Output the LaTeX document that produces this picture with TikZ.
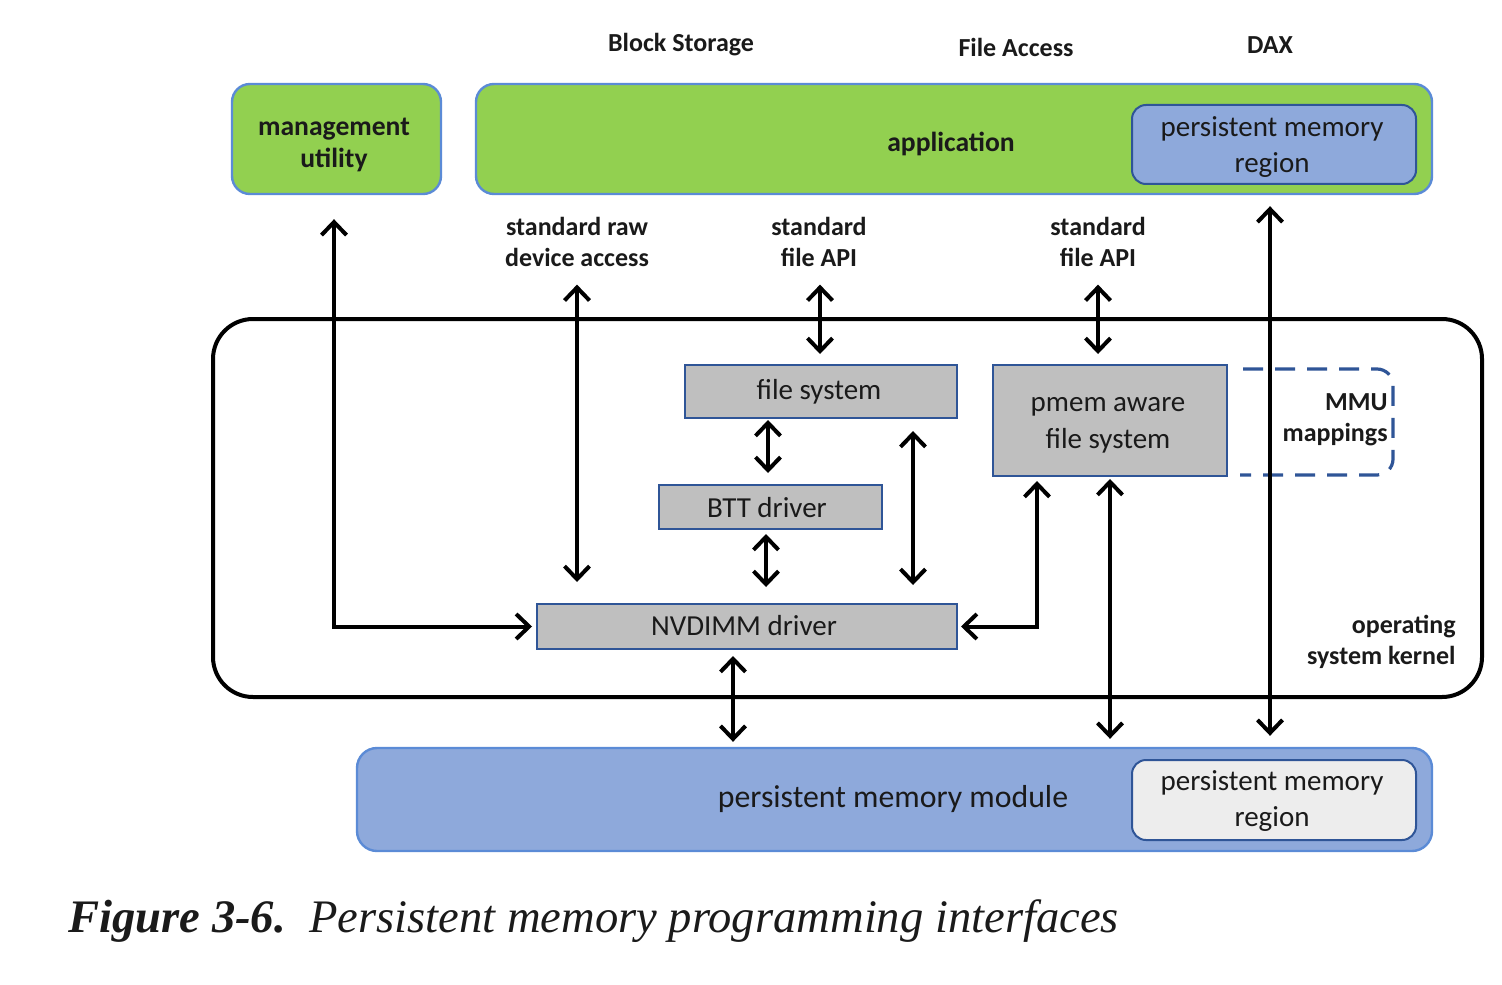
\documentclass[tikz,border=0pt]{standalone}
\usepackage{fontspec}
\setmainfont{Carlito}
\newfontfamily\capfont{Liberation Serif}
\usetikzlibrary{arrows.meta,calc}
\definecolor{cgreen}{HTML}{92D050}
\definecolor{cblue}{HTML}{8EA9DB}
\definecolor{cbord}{HTML}{5B8BD6}
\definecolor{cdark}{HTML}{2F5597}
\definecolor{cgray}{HTML}{BFBFBF}
\definecolor{clight}{HTML}{EDEDED}
\definecolor{ctext}{HTML}{1A1A1A}
\tikzset{
  gbox/.style={draw=cbord, fill=cgreen, line width=1.2pt, rounded corners=9pt, text=ctext, font=\fontsize{13.8}{16}\selectfont\bfseries, align=center, inner sep=0pt},
  pmrbox/.style={draw=cdark, line width=1pt, rounded corners=7pt, text=ctext, font=\fontsize{14.5}{18}\selectfont, align=center, inner sep=0pt},
  graybox/.style={draw=cdark, fill=cgray, line width=1pt, text=ctext, font=\fontsize{14.5}{18.5}\selectfont, align=center, inner sep=0pt},
  lbl/.style={text=ctext, font=\fontsize{13}{15.5}\selectfont\bfseries, align=center, inner sep=0pt},
  tip/.tip={Straight Barb[length=6.5pt,width=12.5pt,line width=2pt]},
  darr/.style={line width=2pt, tip-tip},
}
\begin{document}
\begin{tikzpicture}[x=0.5pt,y=-0.5pt]
\useasboundingbox (0,0) rectangle (1502,984);
% top labels
\node[lbl] (bs) at (681,45) {Block Storage};
\node[lbl] (fa) at (1016,47) {File Access};
\node[lbl] (dax) at (1270,45) {DAX};
% top boxes
\node[gbox, minimum width=209*0.5pt, minimum height=110*0.5pt] (mgmt) at (336.5,139) {};
\node[text=ctext, font=\fontsize{13.8}{16}\selectfont\bfseries, align=center, inner sep=0pt] (mgmtlbl) at (334,145) {management\\utility};
\node[gbox, minimum width=956*0.5pt, minimum height=110*0.5pt] (app) at (954,139) {};
\node[text=ctext, font=\fontsize{13.8}{17}\selectfont\bfseries, inner sep=0pt] (applbl) at (951,144) {application};
\node[pmrbox, fill=cblue, minimum width=284*0.5pt, minimum height=79*0.5pt] (pmr1) at (1274,144.5) {};
\node[text=ctext, font=\fontsize{14.5}{18}\selectfont, align=center, inner sep=0pt] (pmr1lbl) at (1272,147.5) {persistent memory\\region};
% interface labels
\node[lbl] (raw) at (577,241.5) {standard raw\\device access};
\node[lbl] (api1) at (819,241.5) {standard\\file API};
\node[lbl] (api2) at (1098,241.5) {standard\\file API};
% kernel
\node[draw=black, line width=2pt, rounded corners=20pt, minimum width=1269*0.5pt, minimum height=378*0.5pt, inner sep=0pt] (kernel) at (847.5,508) {};
\node[lbl, align=right, anchor=east] (klbl) at (1456,642) {operating\\system kernel};
% inner boxes
\node[graybox, minimum width=272*0.5pt, minimum height=53*0.5pt] (fs) at (821,391.5) {};
\node[text=ctext, font=\fontsize{14.5}{18}\selectfont, inner sep=0pt] (fslbl) at (819,391.5) {file system};
\node[graybox, minimum width=223*0.5pt, minimum height=44*0.5pt] (btt) at (770.5,507) {};
\node[text=ctext, font=\fontsize{14.5}{18}\selectfont, inner sep=0pt] (bttlbl) at (767,508) {BTT driver};
\node[graybox, minimum width=420*0.5pt, minimum height=45*0.5pt] (nvd) at (747,626.5) {};
\node[text=ctext, font=\fontsize{14.5}{18}\selectfont, inner sep=0pt] (nvdlbl) at (744,626) {NVDIMM driver};
\node[graybox, minimum width=234*0.5pt, minimum height=111*0.5pt] (pafs) at (1110,420.5) {};
\node[text=ctext, font=\fontsize{14.5}{18.5}\selectfont, align=center, inner sep=0pt] (pafslbl) at (1108,425) {pmem aware\\file system};
% MMU mappings
\draw[cdark, line width=1.6pt, dash pattern=on 10pt off 6pt, rounded corners=8pt] (1243,369) -- (1393,369) -- (1393,475) -- (1240,475);
\node[lbl, align=right, anchor=east] (mmu) at (1388,420) {MMU\\mappings};
% bottom module
\node[draw=cbord, fill=cblue, line width=1.2pt, rounded corners=10pt, minimum width=1075*0.5pt, minimum height=103*0.5pt, inner sep=0pt] (pmm) at (894.5,799.5) {};
\node[text=ctext, font=\fontsize{15.9}{19}\selectfont, inner sep=0pt] (pmmlbl) at (893,799) {persistent memory module};
\node[pmrbox, fill=clight, minimum width=284*0.5pt, minimum height=80*0.5pt] (pmr2) at (1274,800) {};
\node[text=ctext, font=\fontsize{14.5}{18}\selectfont, align=center, inner sep=0pt] (pmr2lbl) at (1272,801.5) {persistent memory\\region};
% helper x positions
\coordinate (xm) at (334,0);
\coordinate (xraw) at (577,0);
\coordinate (xapi1) at (820,0);
\coordinate (xfb) at (768,0);
\coordinate (xbn) at (766,0);
\coordinate (xfn) at (913,0);
\coordinate (xpa) at (1037,0);
\coordinate (xapi2) at (1098,0);
\coordinate (xpp) at (1110,0);
\coordinate (xdax) at (1270,0);
\coordinate (xnp) at (733,0);
% arrows
\draw[darr, shorten <=24*0.5pt, shorten >=4*0.5pt] (mgmt.south -| xm) -- (xm |- nvd.west) -- (nvd.west);
\draw[darr, shorten <=18*0.5pt, shorten >=21*0.5pt] (raw.south -| xraw) -- (nvd.north -| xraw);
\draw[darr, shorten <=18*0.5pt, shorten >=10*0.5pt] (api1.south -| xapi1) -- (fs.north -| xapi1);
\draw[darr, shorten <=1*0.5pt, shorten >=11*0.5pt] (fs.south -| xfb) -- (btt.north -| xfb);
\draw[darr, shorten <=4*0.5pt, shorten >=16*0.5pt] (btt.south -| xbn) -- (nvd.north -| xbn);
\draw[darr, shorten <=12*0.5pt, shorten >=18*0.5pt] (fs.south -| xfn) -- (nvd.north -| xfn);
\draw[darr, shorten <=4*0.5pt, shorten >=3*0.5pt] (pafs.south -| xpa) -- (xpa |- nvd.east) -- (nvd.east);
\draw[darr, shorten <=18*0.5pt, shorten >=10*0.5pt] (api2.south -| xapi2) -- (pafs.north -| xapi2);
\draw[darr, shorten <=2*0.5pt, shorten >=8*0.5pt] (pafs.south -| xpp) -- (pmm.north -| xpp);
\draw[darr, shorten <=11*0.5pt, shorten >=11*0.5pt] (app.south -| xdax) -- (pmm.north -| xdax);
\draw[darr, shorten <=6*0.5pt, shorten >=5*0.5pt] (nvd.south -| xnp) -- (pmm.north -| xnp);
% caption
\node[anchor=west, inner sep=0pt, text=ctext, font=\capfont\fontsize{23.3}{28}\selectfont] (cap) at (68,921) {\textbf{\textit{Figure 3-6.}}\hspace{0.5em}\textit{Persistent memory programming interfaces}};
\end{tikzpicture}
\end{document}
